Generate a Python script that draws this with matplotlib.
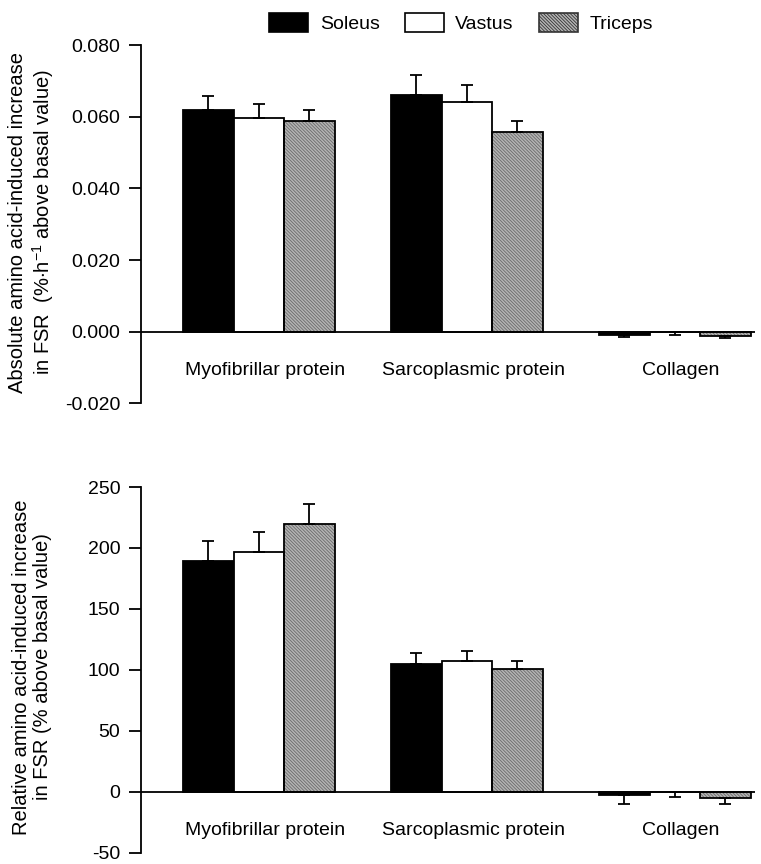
import numpy as np
import matplotlib
matplotlib.use("Agg")
from matplotlib import pyplot as plt
from matplotlib.patches import Patch

plt.rcParams['font.family'] = ['Liberation Sans', 'DejaVu Sans']
plt.rcParams['mathtext.fontset'] = 'custom'
plt.rcParams['mathtext.rm'] = 'Liberation Sans'
plt.rcParams['mathtext.it'] = 'Liberation Sans'
plt.rcParams['hatch.linewidth'] = 0.6

groups = ["Myofibrillar protein", "Sarcoplasmic protein", "Collagen"]
muscles = ["Soleus", "Vastus", "Triceps"]

# absolute increase (%/h above basal)
abs_soleus = [0.0619, 0.0661, -0.0008]
abs_vastus = [0.0596, 0.0640, 0.0]
abs_triceps = [0.0587, 0.0558, -0.0012]
abs_soleus_err = [0.0040, 0.0056, 0.0008]
abs_vastus_err = [0.0040, 0.0048, 0.0008]
abs_triceps_err = [0.0033, 0.0030, 0.0006]

# relative increase (% above basal)
rel_soleus = [189, 105, -3]
rel_vastus = [197, 107, 0]
rel_triceps = [220, 101, -5]
rel_soleus_err = [17, 9, 7]
rel_vastus_err = [16, 8.5, 4]
rel_triceps_err = [16, 6, 5]

face = {"Soleus": "black", "Vastus": "white", "Triceps": "#b4b4b4"}
HATCH = "\\" * 10
FS = 14
width = 0.243
x = np.arange(len(groups))


def draw(ax, series, errs, ylim, yticks, fmt, label_y):
    for i, (m, vals, err) in enumerate(zip(muscles, series, errs)):
        xs = x + (i - 1) * width
        vals = np.array(vals, dtype=float)
        err = np.array(err, dtype=float)
        if m == "Triceps":
            ax.bar(xs, vals, width, color=face[m], edgecolor="#6a6a6a",
                   hatch=HATCH, linewidth=0, zorder=2)
            ax.bar(xs, vals, width, color="none", edgecolor="black",
                   linewidth=1.3, zorder=3)
        else:
            ax.bar(xs, vals, width, color=face[m], edgecolor="black",
                   linewidth=1.3, zorder=3)
        lo = np.where(vals <= 0, err, 0)
        hi = np.where(vals <= 0, 0, err)
        ax.errorbar(xs, vals, yerr=[lo, hi], fmt="none", ecolor="black",
                    elinewidth=1.3, capsize=4, capthick=1.3, zorder=4)
    ax.axhline(0, color="black", lw=1.3, zorder=5)
    ax.set_xlim(-0.567, 2.385)
    ax.set_ylim(*ylim)
    ax.set_yticks(yticks)
    ax.set_yticklabels([fmt.format(t) for t in yticks], fontsize=FS)
    for s in ["top", "right", "bottom"]:
        ax.spines[s].set_visible(False)
    ax.spines["left"].set_linewidth(1.3)
    ax.tick_params(axis="y", length=9, width=1.3, direction="out", pad=6)
    ax.set_xticks([])
    for g, xc in zip(groups, x):
        ax.text(xc + 0.03, label_y, g, ha="center", va="center", fontsize=FS)


fig = plt.figure(figsize=(7.61, 8.64), dpi=100)
ax1 = fig.add_axes([0.1853, 0.5331, 0.8068, 0.4148])
ax2 = fig.add_axes([0.1853, 0.0132, 0.8068, 0.4231])

draw(ax1, [abs_soleus, abs_vastus, abs_triceps],
     [abs_soleus_err, abs_vastus_err, abs_triceps_err],
     (-0.02, 0.08), [-0.02, 0.0, 0.02, 0.04, 0.06, 0.08], "{:.3f}", -0.0107)
draw(ax2, [rel_soleus, rel_vastus, rel_triceps],
     [rel_soleus_err, rel_vastus_err, rel_triceps_err],
     (-50, 250), [-50, 0, 50, 100, 150, 200, 250], "{:.0f}", -31.5)

fig.text(0.0425, 0.743, "Absolute amino acid-induced increase\nin FSR  (%$\\cdot$h$^{-1}$ above basal value)",
         rotation=90, ha="center", va="center", fontsize=14.5, multialignment="center",
         linespacing=1.15)
fig.text(0.0425, 0.228, "Relative amino acid-induced increase\nin FSR (% above basal value)",
         rotation=90, ha="center", va="center", fontsize=14.5, multialignment="center",
         linespacing=1.15)

handles = [Patch(facecolor="black", edgecolor="black", linewidth=1.2),
           Patch(facecolor="white", edgecolor="black", linewidth=1.2),
           Patch(facecolor="#b4b4b4", edgecolor="#333333", hatch=HATCH, linewidth=1.2)]
fig.legend(handles, muscles, loc="center", bbox_to_anchor=(0.606, 0.973), ncol=3,
           frameon=False, fontsize=FS, handlelength=2.0, handleheight=1.1,
           handletextpad=0.6, columnspacing=1.3)

fig.savefig("out.png", dpi=100)
